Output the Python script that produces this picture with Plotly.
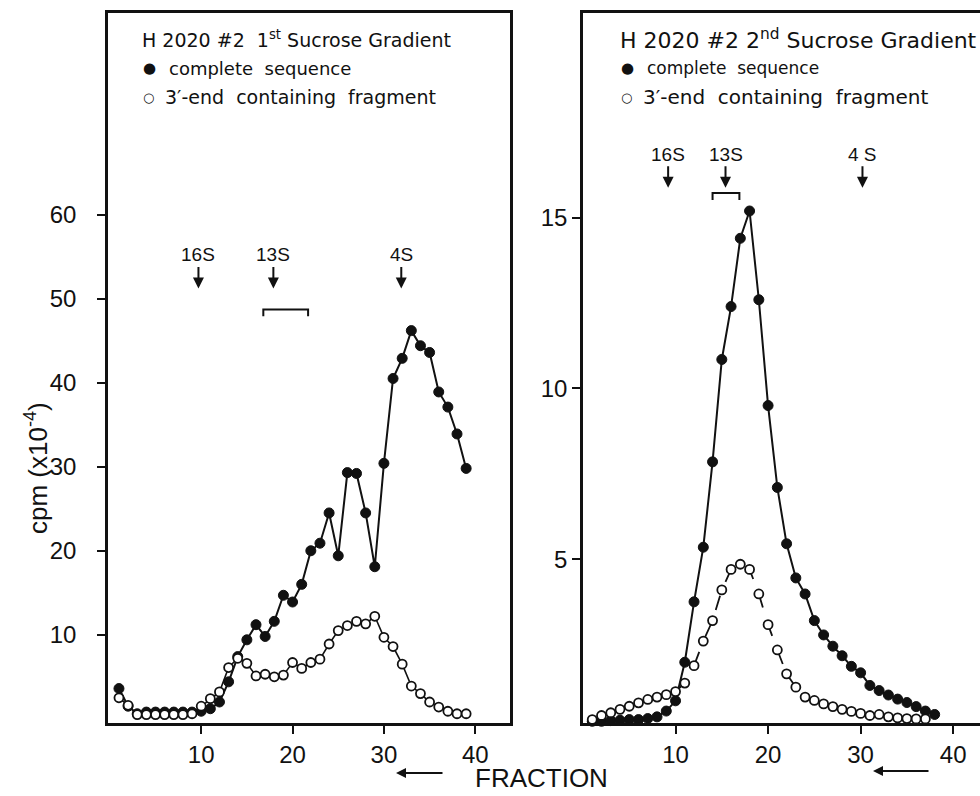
import plotly.graph_objects as go

# ---------------- data ----------------
left_fraction_complete = list(range(1, 40))
left_complete = [3.6, 1.5, 0.6, 0.8, 0.8, 0.8, 0.8, 0.8, 0.8, 0.9,
                 1.2, 2.0, 4.4, 7.4, 9.4, 11.2, 9.8, 11.6, 14.7, 13.9,
                 16.0, 20.0, 20.9, 24.5, 19.4, 29.3, 29.2, 24.5, 18.1, 30.4,
                 40.5, 42.9, 46.2, 44.4, 43.6, 38.9, 37.1, 33.9, 29.8]
left_fraction_fragment = list(range(1, 40))
left_fragment = [2.5, 1.6, 0.5, 0.5, 0.5, 0.5, 0.5, 0.5, 0.6, 1.5,
                 2.4, 3.2, 6.1, 7.2, 6.6, 5.1, 5.3, 5.0, 5.2, 6.7,
                 6.0, 6.7, 7.1, 8.9, 10.5, 11.1, 11.6, 11.3, 12.2, 9.7,
                 8.6, 6.5, 3.9, 3.0, 2.0, 1.4, 0.9, 0.6, 0.6]

right_fraction_complete = list(range(1, 39))
right_complete = [0.25, 0.25, 0.27, 0.28, 0.3, 0.3, 0.33, 0.38, 0.55, 0.85,
                  1.98, 3.75, 5.35, 7.85, 10.85, 12.4, 14.4, 15.2, 12.6, 9.5,
                  7.1, 5.45, 4.45, 3.98, 3.2, 2.78, 2.45, 2.17, 1.86, 1.67,
                  1.3, 1.15, 1.02, 0.9, 0.8, 0.68, 0.55, 0.45]
right_fraction_fragment = list(range(1, 38))
right_fragment = [0.3, 0.42, 0.5, 0.6, 0.69, 0.79, 0.89, 0.96, 1.03, 1.12,
                  1.37, 1.88, 2.6, 3.2, 4.1, 4.7, 4.85, 4.7, 3.98, 3.08,
                  2.34, 1.64, 1.25, 0.96, 0.86, 0.76, 0.68, 0.6, 0.54, 0.48,
                  0.42, 0.45, 0.38, 0.35, 0.33, 0.32, 0.32]

x_ticks = [10, 20, 30, 40]
left_y_ticks = [10, 20, 30, 40, 50, 60]
right_y_ticks = [5, 10, 15]

left_title = "H 2020 #2  1<sup>st</sup> Sucrose Gradient"
right_title = "H 2020 #2 2<sup>nd</sup> Sucrose Gradient"
legend_complete = "complete  sequence"
legend_fragment = "3′-end  containing  fragment"

# sedimentation markers: (label, fraction)
left_markers = [("16S", 9.7), ("13S", 17.9), ("4S", 31.9)]
right_markers = [("16S", 9.2), ("13S", 15.4), ("4 S", 30.2)]
left_bracket = (16.8, 21.7)
right_bracket = (14.0, 16.9)

# ---------------- figure ----------------
W, H = 980, 796
FONT = "Liberation Sans, Arial, sans-serif"
LFONT = "DejaVu Sans, Liberation Sans, sans-serif"
BLACK = "#111111"

def px_x(p):
    return p / W

def px_y(p):
    return 1 - p / H

fig = go.Figure()

filled = dict(symbol="circle", size=10, color=BLACK, line=dict(color=BLACK, width=1))
hollow = dict(symbol="circle", size=9, color="white", line=dict(color=BLACK, width=1.8))

fig.add_trace(go.Scatter(x=left_fraction_complete, y=left_complete, mode="lines+markers",
                         marker=filled, line=dict(color=BLACK, width=2),
                         xaxis="x", yaxis="y", cliponaxis=False, showlegend=False))
fig.add_trace(go.Scatter(x=left_fraction_fragment, y=left_fragment, mode="lines+markers",
                         marker=hollow, line=dict(color=BLACK, width=1.6),
                         xaxis="x", yaxis="y", cliponaxis=False, showlegend=False))
fig.add_trace(go.Scatter(x=right_fraction_complete, y=right_complete, mode="lines+markers",
                         marker=filled, line=dict(color=BLACK, width=2),
                         xaxis="x2", yaxis="y2", cliponaxis=False, showlegend=False))
fig.add_trace(go.Scatter(x=right_fraction_fragment, y=right_fragment, mode="lines+markers",
                         marker=hollow, line=dict(color=BLACK, width=1.8, dash="longdash"),
                         xaxis="x2", yaxis="y2", cliponaxis=False, showlegend=False))

y_dom = [px_y(723), px_y(13)]
axis_common = dict(showgrid=False, zeroline=False, showline=True, linecolor=BLACK,
                   linewidth=2.5, ticks="outside", ticklen=8, tickwidth=2,
                   tickcolor=BLACK, tickfont=dict(family=FONT, size=24, color=BLACK))

fig.update_layout(
    width=W, height=H,
    margin=dict(l=0, r=0, t=0, b=0),
    paper_bgcolor="white", plot_bgcolor="white",
    xaxis=dict(domain=[px_x(108), px_x(510)], range=[-0.2, 43.8],
               tickvals=x_ticks, mirror=True, anchor="y", **axis_common),
    yaxis=dict(domain=y_dom, range=[-0.5, 84], tickvals=left_y_ticks,
               mirror=True, anchor="x", ticklabelstandoff=16, **axis_common),
    xaxis2=dict(domain=[px_x(583), 1.0], range=[0, 42.9],
                tickvals=x_ticks, mirror=True, anchor="y2", **axis_common),
    yaxis2=dict(domain=y_dom, range=[0.2, 21.0], tickvals=right_y_ticks,
                mirror=False, anchor="x2", **axis_common),
)

ann = []
# panel legends: (x0, title, title size, row-1 size, row-2 size)
for x0, title, tsize, s1, s2 in [(140, left_title, 19, 18, 19),
                                  (618, right_title, 22, 17, 20)]:
    ann.append(dict(x=px_x(x0), y=px_y(39), xref="paper", yref="paper", text=title,
                    showarrow=False, xanchor="left", yanchor="middle",
                    font=dict(family=LFONT, size=tsize, color=BLACK)))
    ann.append(dict(x=px_x(x0 + 1), y=px_y(68), xref="paper", yref="paper", text="●",
                    showarrow=False, xanchor="left", yanchor="middle",
                    font=dict(family=LFONT, size=15, color=BLACK)))
    ann.append(dict(x=px_x(x0 + 27), y=px_y(68), xref="paper", yref="paper",
                    text=legend_complete, showarrow=False, xanchor="left", yanchor="middle",
                    font=dict(family=LFONT, size=s1, color=BLACK)))
    ann.append(dict(x=px_x(x0 + 1), y=px_y(97), xref="paper", yref="paper", text="○",
                    showarrow=False, xanchor="left", yanchor="middle",
                    font=dict(family=LFONT, size=13, color=BLACK)))
    ann.append(dict(x=px_x(x0 + 23), y=px_y(97), xref="paper", yref="paper",
                    text=legend_fragment, showarrow=False, xanchor="left", yanchor="middle",
                    font=dict(family=LFONT, size=s2, color=BLACK)))

# sedimentation markers
for markers, xr, yr, tip_y, text_y in [(left_markers, "x", "y", 51.2, 55.2),
                                        (right_markers, "x2", "y2", 15.88, 16.86)]:
    for label, fx in markers:
        ann.append(dict(x=fx, y=tip_y, xref=xr, yref=yr, text="", showarrow=True,
                        ax=0, ay=-23, arrowhead=2, arrowsize=1.1, arrowwidth=2,
                        arrowcolor=BLACK))
        ann.append(dict(x=fx, y=text_y, xref=xr, yref=yr, text=label, showarrow=False,
                        xanchor="center", yanchor="middle",
                        font=dict(family=FONT, size=19, color=BLACK)))

# y title
ann.append(dict(x=px_x(36), y=px_y(468), xref="paper", yref="paper",
                text="cpm (x10<sup>-4</sup>)", showarrow=False, textangle=-90,
                xanchor="center", yanchor="middle",
                font=dict(family=FONT, size=26, color=BLACK)))
# x title
ann.append(dict(x=px_x(541), y=px_y(778), xref="paper", yref="paper",
                text="FRACTION", showarrow=False, xanchor="center", yanchor="middle",
                font=dict(family=FONT, size=26, color=BLACK)))
# direction arrows (tail -> head, pointing left)
for x_tail, x_head, yy in [(444, 396, 773), (930, 873, 771)]:
    ann.append(dict(x=px_x(x_head), y=px_y(yy), xref="paper", yref="paper", text="",
                    showarrow=True, ax=x_tail - x_head, ay=0,
                    arrowhead=2, arrowsize=1, arrowwidth=2, arrowcolor=BLACK))

fig.update_layout(annotations=ann)

# 13S brackets
shapes = []
for (b0, b1), xr, yr, ytop, ybot in [(left_bracket, "x", "y", 48.7, 47.9),
                                      (right_bracket, "x2", "y2", 15.73, 15.52)]:
    shapes.append(dict(type="path", xref=xr, yref=yr,
                       path=f"M {b0},{ybot} L {b0},{ytop} L {b1},{ytop} L {b1},{ybot}",
                       line=dict(color=BLACK, width=2)))
fig.update_layout(shapes=shapes)

fig.write_html("out.html")
